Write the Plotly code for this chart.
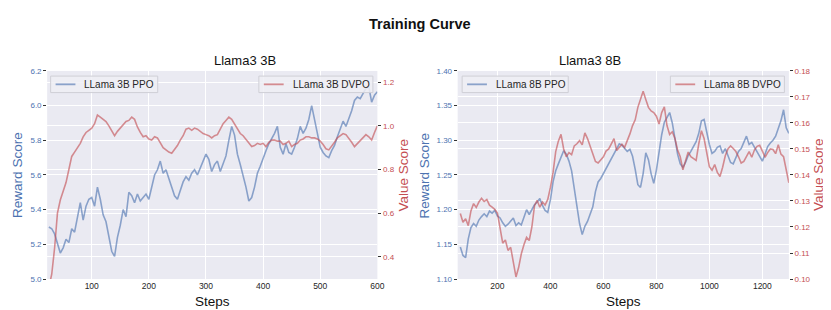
import plotly.graph_objects as go

# ---------------- data ----------------
steps_3b = list(range(25, 601, 5))
ppo_3b = [5.30, 5.29, 5.26, 5.20, 5.15, 5.18, 5.23, 5.21, 5.29, 5.27,
          5.36, 5.44, 5.34, 5.42, 5.46, 5.47, 5.42, 5.53, 5.46, 5.37,
          5.33, 5.25, 5.16, 5.13, 5.24, 5.31, 5.40, 5.36, 5.50, 5.48,
          5.44, 5.49, 5.45, 5.47, 5.49, 5.46, 5.54, 5.60, 5.63, 5.68,
          5.61, 5.63, 5.58, 5.53, 5.48, 5.46, 5.51, 5.56, 5.59, 5.57,
          5.61, 5.63, 5.60, 5.64, 5.68, 5.72, 5.69, 5.62, 5.66, 5.68,
          5.62, 5.66, 5.71, 5.80, 5.88, 5.83, 5.72, 5.66, 5.60, 5.53,
          5.45, 5.47, 5.53, 5.61, 5.65, 5.70, 5.74, 5.78, 5.81, 5.84,
          5.88, 5.76, 5.72, 5.78, 5.73, 5.72, 5.76, 5.81, 5.88, 5.84,
          5.87, 5.92, 6.00, 5.91, 5.84, 5.76, 5.73, 5.71, 5.70, 5.74,
          5.77, 5.82, 5.86, 5.91, 5.88, 5.92, 5.97, 6.03, 6.05, 6.04,
          6.07, 6.10, 6.11, 6.02, 6.06, 6.08]
dvpo_3b = [0.26, 0.32, 0.44, 0.60, 0.66, 0.70, 0.74, 0.80, 0.86, 0.88,
           0.90, 0.92, 0.95, 0.97, 0.98, 0.99, 1.01, 1.05, 1.04, 1.03,
           1.02, 1.00, 0.98, 0.955, 0.975, 0.99, 1.01, 1.02, 1.025, 1.04,
           1.03, 0.995, 0.97, 0.95, 0.955, 0.94, 0.935, 0.95, 0.945, 0.925,
           0.90, 0.89, 0.88, 0.875, 0.89, 0.91, 0.935, 0.955, 0.985, 0.99,
           0.98, 0.99, 0.985, 0.975, 0.965, 0.96, 0.955, 0.945, 0.955, 0.96,
           0.985, 1.01, 1.025, 1.04, 1.03, 1.01, 0.99, 0.965, 0.955, 0.94,
           0.92, 0.905, 0.91, 0.92, 0.915, 0.92, 0.905, 0.925, 0.935, 0.935,
           0.93, 0.93, 0.915, 0.92, 0.93, 0.905, 0.915, 0.92, 0.935, 0.94,
           0.95, 0.95, 0.945, 0.945, 0.94, 0.93, 0.915, 0.895, 0.89, 0.905,
           0.925, 0.945, 0.955, 0.965, 0.96, 0.945, 0.925, 0.905, 0.92, 0.93,
           0.945, 0.96, 0.95, 0.935, 0.97, 1.00]

steps_8b = list(range(60, 1301, 10))
ppo_8b = [1.146, 1.134, 1.131, 1.158, 1.174, 1.180, 1.176, 1.185, 1.190, 1.194,
          1.190, 1.198, 1.195, 1.199, 1.191, 1.188, 1.181, 1.176, 1.179, 1.183,
          1.188, 1.177, 1.181, 1.178, 1.188, 1.200, 1.193, 1.200, 1.207, 1.211,
          1.216, 1.206, 1.199, 1.196, 1.214, 1.240, 1.256, 1.266, 1.276, 1.285,
          1.280, 1.270, 1.256, 1.232, 1.208, 1.180, 1.164, 1.176, 1.183, 1.195,
          1.204, 1.226, 1.240, 1.245, 1.252, 1.260, 1.266, 1.274, 1.281, 1.289,
          1.295, 1.293, 1.289, 1.284, 1.287, 1.277, 1.258, 1.236, 1.232, 1.252,
          1.282, 1.272, 1.252, 1.238, 1.257, 1.284, 1.308, 1.326, 1.334, 1.340,
          1.325, 1.300, 1.280, 1.266, 1.261, 1.268, 1.278, 1.284, 1.290, 1.298,
          1.310, 1.328, 1.330, 1.310, 1.294, 1.281, 1.284, 1.290, 1.292, 1.281,
          1.288, 1.278, 1.268, 1.266, 1.276, 1.284, 1.288, 1.296, 1.306, 1.294,
          1.297, 1.290, 1.284, 1.276, 1.270, 1.280, 1.291, 1.296, 1.300, 1.306,
          1.316, 1.328, 1.344, 1.318, 1.310]
dvpo_8b = [0.1252, 0.1218, 0.1232, 0.1205, 0.1262, 0.1290, 0.1275, 0.1296, 0.1310, 0.1298,
           0.1306, 0.1284, 0.1276, 0.1268, 0.1254, 0.1196, 0.1138, 0.1150, 0.1110, 0.1122,
           0.1060, 0.1008, 0.1044, 0.1096, 0.1132, 0.1160, 0.1148, 0.1200, 0.1282, 0.1302,
           0.1276, 0.1296, 0.1284, 0.1306, 0.1352, 0.1410, 0.1490, 0.1530, 0.1556, 0.1500,
           0.1470, 0.1486, 0.1478, 0.1512, 0.1520, 0.1532, 0.1516, 0.1562, 0.1540, 0.1510,
           0.1480, 0.1452, 0.1446, 0.1460, 0.1470, 0.1492, 0.1500, 0.1520, 0.1540, 0.1494,
           0.1504, 0.1518, 0.1506, 0.1530, 0.1558, 0.1590, 0.1612, 0.1660, 0.1690, 0.1722,
           0.1690, 0.1660, 0.1646, 0.1640, 0.1626, 0.1596, 0.1640, 0.1662, 0.1590, 0.1556,
           0.1566, 0.1540, 0.1496, 0.1470, 0.1420, 0.1450, 0.1488, 0.1470, 0.1462, 0.1456,
           0.1520, 0.1570, 0.1540, 0.1486, 0.1432, 0.1418, 0.1440, 0.1410, 0.1394, 0.1430,
           0.1474, 0.1500, 0.1512, 0.1502, 0.1490, 0.1470, 0.1446, 0.1452, 0.1470, 0.1490,
           0.1468, 0.1496, 0.1510, 0.1514, 0.1492, 0.1468, 0.1486, 0.1500, 0.1498, 0.1482,
           0.1516, 0.1480, 0.1470, 0.1420, 0.1370]

reward_ticks_3b = [5.0, 5.2, 5.4, 5.6, 5.8, 6.0, 6.2]
value_ticks_3b = [0.4, 0.6, 0.8, 1.0, 1.2]
reward_ticks_8b = [1.10, 1.15, 1.20, 1.25, 1.30, 1.35, 1.40]
value_ticks_8b = [0.10, 0.11, 0.12, 0.13, 0.14, 0.15, 0.16, 0.17, 0.18]
step_ticks_3b = [100, 200, 300, 400, 500, 600]
step_ticks_8b = [200, 400, 600, 800, 1000, 1200]

names = ["LLama 3B PPO", "LLama 3B DVPO", "LLama 8B PPO", "LLama 8B DVPO"]

# ---------------- style ----------------
BLUE = "#4C72B0"
RED = "#C44E52"
BLUE_LINE = "rgba(76,114,176,0.62)"
RED_LINE = "rgba(196,78,82,0.62)"
BG = "#EAEAF2"
FONT = "Liberation Sans, Arial, sans-serif"
W, H = 831, 310

fig = go.Figure()
fig.add_trace(go.Scatter(x=steps_3b, y=ppo_3b, mode="lines", name=names[0],
                         line=dict(color=BLUE_LINE, width=1.6), xaxis="x", yaxis="y"))
fig.add_trace(go.Scatter(x=steps_3b, y=dvpo_3b, mode="lines", name=names[1],
                         line=dict(color=RED_LINE, width=1.6), xaxis="x", yaxis="y2"))
fig.add_trace(go.Scatter(x=steps_8b, y=ppo_8b, mode="lines", name=names[2],
                         line=dict(color=BLUE_LINE, width=1.6), xaxis="x2", yaxis="y3"))
fig.add_trace(go.Scatter(x=steps_8b, y=dvpo_8b, mode="lines", name=names[3],
                         line=dict(color=RED_LINE, width=1.6), xaxis="x2", yaxis="y4"))

def px_x(p):
    return p / W

def px_y(p):
    return 1 - p / H

L1, R1 = 39.5, 372.5
L2, R2 = 453.5, 787.5
TOP, BOT = 60.7, 275.0

common_x = dict(showgrid=True, gridcolor="white", gridwidth=1, zeroline=False,
                ticks="", showline=False,
                tickfont=dict(family=FONT, size=8.5, color="#262626"))

def yax(ticks, fmt, color, side, rng, overlay=None, anchor="x"):
    d = dict(range=rng, tickvals=ticks, tickformat=fmt, showgrid=True, gridcolor="white",
             gridwidth=1, zeroline=False, ticks="outside", ticklen=3, tickcolor="#333333",
             tickfont=dict(family=FONT, size=8, color=color), side=side, anchor=anchor,
             showline=False)
    if overlay:
        d["overlaying"] = overlay
    return d

shapes = []
annotations = [
    dict(text="<b>Training Curve</b>", x=0.5, y=px_y(12), xref="paper", yref="paper",
         showarrow=False, font=dict(family=FONT, size=14.5, color="#111111"), yanchor="middle"),
    dict(text="Llama3 3B", x=px_x((L1 + R1) / 2), y=px_y(50), xref="paper", yref="paper",
         showarrow=False, font=dict(family=FONT, size=13, color="#111111"), yanchor="middle"),
    dict(text="Llama3 8B", x=px_x((L2 + R2) / 2), y=px_y(50), xref="paper", yref="paper",
         showarrow=False, font=dict(family=FONT, size=13, color="#111111"), yanchor="middle"),
]

mid_y = (TOP + BOT) / 2
for txt, xpos, col in [("Reward Score", 10, BLUE), ("Value Score", 399, RED),
                       ("Reward Score", 421, BLUE), ("Value Score", 818, RED)]:
    annotations.append(dict(text=txt, x=px_x(xpos), y=px_y(mid_y), xref="paper", yref="paper",
                            textangle=-90, showarrow=False, xanchor="center", yanchor="middle",
                            font=dict(family=FONT, size=13.5, color=col)))
for cx in [(L1 + R1) / 2, (L2 + R2) / 2]:
    annotations.append(dict(text="Steps", x=px_x(cx), y=px_y(298), xref="paper", yref="paper",
                            showarrow=False, xanchor="center", yanchor="middle",
                            font=dict(family=FONT, size=13.5, color="#111111")))

# legend boxes (box left, box right, line colour, label)
legend_boxes = [(43, 151, BLUE_LINE, names[0]), (253, 368, RED_LINE, names[1]),
                (458, 565, BLUE_LINE, names[2]), (668, 783, RED_LINE, names[3])]
for x0, x1, col, label in legend_boxes:
    shapes.append(dict(type="rect", xref="paper", yref="paper",
                       x0=px_x(x0), x1=px_x(x1), y0=px_y(83), y1=px_y(66),
                       fillcolor="rgba(238,238,244,0.85)", line=dict(color="#CFCFD6", width=1)))
    shapes.append(dict(type="line", xref="paper", yref="paper",
                       x0=px_x(x0 + 5), x1=px_x(x0 + 25), y0=px_y(74.5), y1=px_y(74.5),
                       line=dict(color=col, width=1.8)))
    annotations.append(dict(text=label, x=px_x(x0 + 32), y=px_y(74.5), xref="paper", yref="paper",
                            showarrow=False, xanchor="left", yanchor="middle",
                            font=dict(family=FONT, size=10, color="#262626")))

fig.update_layout(
    width=W, height=H,
    margin=dict(l=0, r=0, t=0, b=0),
    paper_bgcolor="white", plot_bgcolor=BG,
    font=dict(family=FONT),
    showlegend=False,
    xaxis=dict(domain=[px_x(L1), px_x(R1)], range=[22, 600], tickvals=step_ticks_3b,
               anchor="y", **common_x),
    yaxis=dict(domain=[px_y(BOT), px_y(TOP)],
               **yax(reward_ticks_3b, ".1f", BLUE, "left", [5.0, 6.2])),
    yaxis2=yax(value_ticks_3b, ".1f", RED, "right", [0.298, 1.252], overlay="y", anchor="x"),
    xaxis2=dict(domain=[px_x(L2), px_x(R2)], range=[50, 1300], tickvals=step_ticks_8b,
                anchor="y3", **common_x),
    yaxis3=dict(domain=[px_y(BOT), px_y(TOP)],
                **yax(reward_ticks_8b, ".2f", BLUE, "left", [1.10, 1.40], anchor="x2")),
    yaxis4=yax(value_ticks_8b, ".2f", RED, "right", [0.10, 0.18], overlay="y3", anchor="x2"),
    shapes=shapes,
    annotations=annotations,
)

fig.write_html("out.html")
